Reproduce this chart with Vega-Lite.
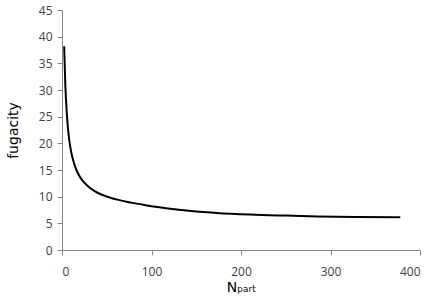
{
  "$schema": "https://vega.github.io/schema/vega-lite/v6.json",
  "autosize": {"type": "none"},
  "width": 358,
  "height": 240,
  "padding": {"left": 62, "top": 10, "right": 13, "bottom": 50},
  "background": "white",
  "config": {
    "view": {"stroke": null},
    "font": "Open Sans",
    "axis": {
      "grid": false,
      "domainColor": "#868686",
      "tickColor": "#868686",
      "domainWidth": 1,
      "tickWidth": 1,
      "tickSize": 5,
      "labelFont": "Open Sans",
      "labelFontSize": 12,
      "labelColor": "#404040",
      "titleFont": "DejaVu Sans",
      "titleFontSize": 14,
      "titleFontWeight": "normal",
      "titleColor": "#000000"
    }
  },
  "data": {
    "values": [
      {"n": 2.4, "f": 38.2},
      {"n": 3.7, "f": 31.0},
      {"n": 5.6, "f": 25.0},
      {"n": 7.8, "f": 21.0},
      {"n": 11, "f": 17.8},
      {"n": 14.5, "f": 15.7},
      {"n": 18, "f": 14.3},
      {"n": 24, "f": 12.8},
      {"n": 30, "f": 11.8},
      {"n": 36, "f": 11.1},
      {"n": 44, "f": 10.4},
      {"n": 54, "f": 9.8},
      {"n": 62, "f": 9.45},
      {"n": 72, "f": 9.05},
      {"n": 87, "f": 8.6},
      {"n": 102, "f": 8.15},
      {"n": 136, "f": 7.45},
      {"n": 173, "f": 6.95},
      {"n": 210, "f": 6.65},
      {"n": 250, "f": 6.45},
      {"n": 285, "f": 6.3},
      {"n": 330, "f": 6.2},
      {"n": 378, "f": 6.15}
    ]
  },
  "mark": {"type": "line", "color": "#000000", "strokeWidth": 2, "interpolate": "monotone"},
  "encoding": {
    "x": {
      "field": "n", "type": "quantitative",
      "scale": {"domain": [0, 400], "nice": false},
      "axis": {"values": [0, 100, 200, 300, 400], "title": "Nₚₐᵣₜ", "labelPadding": 11, "titlePadding": 3}
    },
    "y": {
      "field": "f", "type": "quantitative",
      "scale": {"domain": [0, 45], "nice": false},
      "axis": {"values": [0, 5, 10, 15, 20, 25, 30, 35, 40, 45], "title": "fugacity", "labelPadding": 5, "titlePadding": 18}
    }
  }
}
